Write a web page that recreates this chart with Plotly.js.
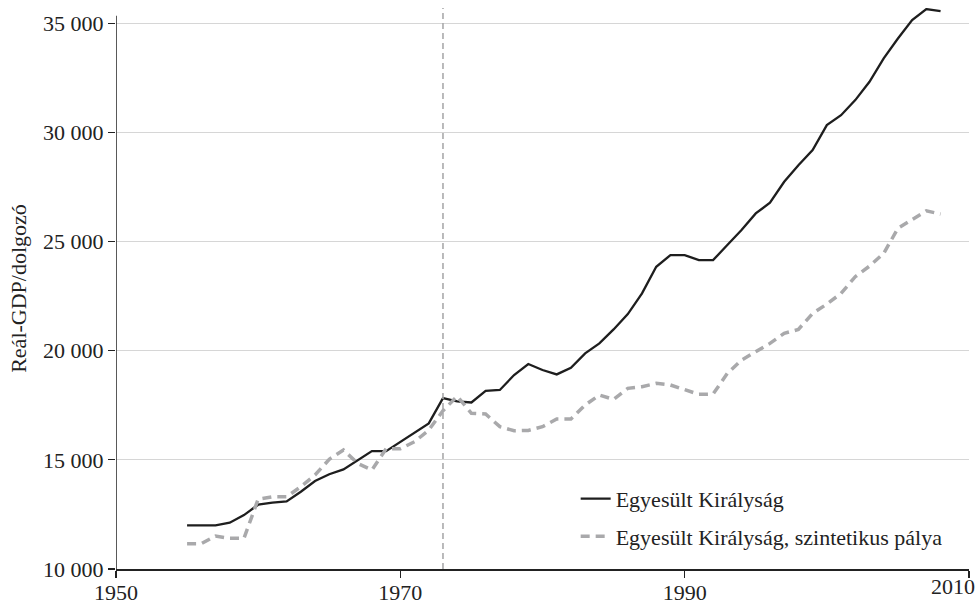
<!DOCTYPE html>
<html>
<head>
<meta charset="utf-8">
<script src="https://cdn.plot.ly/plotly-3.0.1.min.js"></script>
<style>
  body{margin:0;background:#fff;}
  #myPlot{width:977px;height:605px;}
</style>
</head>
<body>
<div id="myPlot"></div>
<script>
// Data

var years = [1955,1956,1957,1958,1959,1960,1961,1962,1963,1964,1965,1966,1967,1968,1969,
  1970,1971,1972,1973,1974,1975,1976,1977,1978,1979,1980,1981,1982,1983,1984,1985,1986,
  1987,1988,1989,1990,1991,1992,1993,1994,1995,1996,1997,1998,1999,2000,2001,2002,2003,
  2004,2005,2006,2007,2008];

var ukActual = [12000,12000,12000,12120,12470,12945,13040,13100,13540,14030,14340,14565,15000,15400,15400,
  15830,16245,16670,17830,17680,17630,18165,18200,18885,19390,19115,18915,19220,19880,20335,20975,21680,
  22625,23845,24380,24380,24150,24150,24840,25530,26290,26780,27740,28500,29190,30335,30790,31480,32320,
  33390,34300,35145,35650,35560];

var ukSynth = [11160,11160,11510,11405,11405,13200,13310,13310,13770,14305,15025,15450,14840,14535,15510,
  15510,15830,16365,17250,17920,17130,17100,16520,16335,16350,16520,16870,16870,17510,17970,17770,18275,
  18350,18505,18430,18200,18000,18015,18960,19570,19950,20335,20795,20975,21710,22135,22625,23390,23875,
  24460,25605,25985,26410,26260];

var seriesNames = ["Egyesült Királyság", "Egyesült Királyság, szintetikus pálya"];
var treatYear = 1973;

var xTicks = [1950, 1970, 1990, 2010];
var xTickText = ["1950", "1970", "1990", ""];   // 2010 label is put in by hand, it sits at the edge
var yTicks = [10000, 15000, 20000, 25000, 30000, 35000];
var yTickText = ["10 000", "15 000", "20 000", "25 000", "30 000", "35 000"];

var fnt = "Liberation Serif, Times New Roman, serif";
var fsize = 22;

// Define Data
var data = [{
  x: years,
  y: ukActual,
  name: seriesNames[0],
  mode: "lines",
  legendgroup: "a",
  line: {color: "#1e1e1e", width: 2.3}
}, {
  x: years,
  y: ukSynth,
  name: seriesNames[1],
  mode: "lines",
  legendgroup: "b",
  line: {color: "#a9a9ab", width: 3.5, dash: "9px,6px"}
}];

// Define Layout
var layout = {
  width: 977,
  height: 605,
  margin: {l: 116, r: 8, t: 8, b: 36},
  paper_bgcolor: "#fff",
  plot_bgcolor: "#fff",
  font: {family: fnt, size: fsize, color: "#222"},
  showlegend: true,
  legend: {
    x: 0.975, xanchor: "right",
    y: 0.02, yanchor: "bottom",
    bgcolor: "rgba(0,0,0,0)",
    tracegroupgap: 6,
    font: {family: fnt, size: fsize, color: "#222"}
  },
  xaxis: {
    range: [1950, 2010],
    tickvals: xTicks,
    ticktext: xTickText,
    ticks: "outside", ticklen: 7, tickwidth: 1.2, tickcolor: "#222",
    ticklabelstandoff: -4,
    showgrid: false, zeroline: false,
    showline: true, linecolor: "#222", linewidth: 1.5
  },
  yaxis: {
    range: [10000, 35700],
    tickvals: yTicks,
    ticktext: yTickText,
    ticks: "outside", ticklen: 7, tickwidth: 1.2, tickcolor: "#222",
    showgrid: true, gridcolor: "#d6d6d6", gridwidth: 1,
    zeroline: false, showline: false,
    title: {text: "Reál-GDP/dolgozó", standoff: 10, font: {family: fnt, size: fsize, color: "#222"}}
  },
  annotations: [
    {text: "2010", xref: "x", yref: "paper", x: 2010, y: 0, xanchor: "right", yanchor: "top",
      xshift: 8, yshift: -3, showarrow: false, font: {family: fnt, size: fsize, color: "#222"}}
  ],
  shapes: [
    // y axis line (stops a bit under the top of the plot)
    {type: "line", xref: "x", yref: "y", x0: 1950, x1: 1950, y0: 10000, y1: 35340,
      line: {color: "#222", width: 1.5}},
    // treatment year
    {type: "line", xref: "x", yref: "paper", x0: treatYear, x1: treatYear, y0: 0, y1: 1,
      line: {color: "#a9a9ab", width: 1.6, dash: "6px,4px"}}
  ]
};

Plotly.newPlot("myPlot", data, layout, {displayModeBar: false, staticPlot: true});
</script>
</body>
</html>
